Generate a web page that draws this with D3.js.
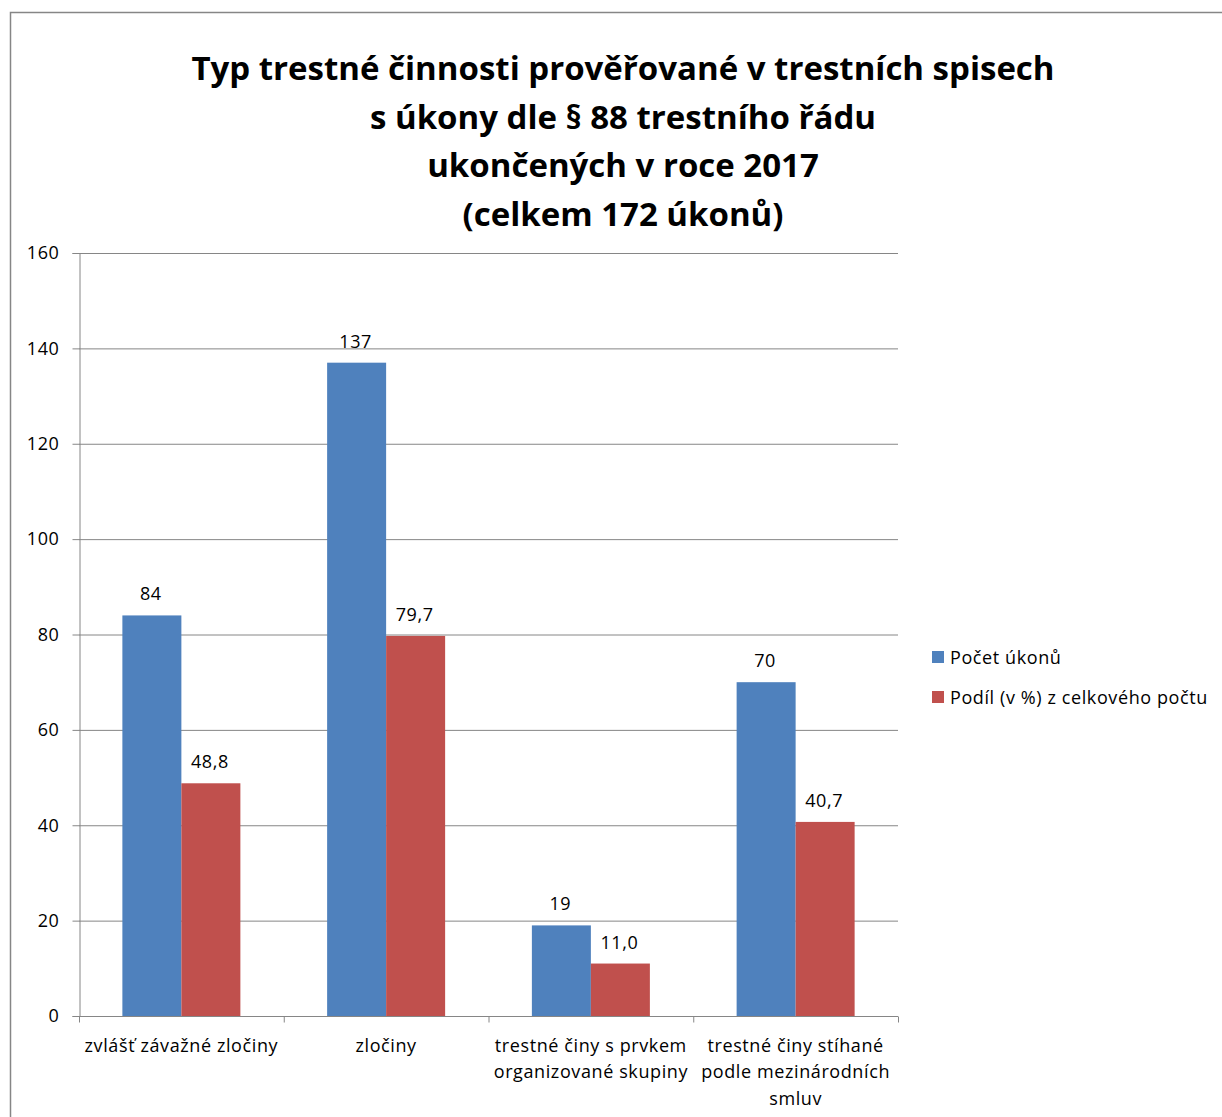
<!DOCTYPE html>
<html><head><meta charset="utf-8">
<script src="https://cdn.jsdelivr.net/npm/d3@7"></script>
<style>body{margin:0;background:#fff;}svg{display:block;}</style>
</head><body>
<script>
const titleLines = ["Typ trestné činnosti prověřované v trestních spisech","s úkony dle § 88 trestního řádu","ukončených v roce 2017","(celkem 172 úkonů)"];
const categories = [["zvlášť závažné zločiny"],["zločiny"],["trestné činy s prvkem","organizované skupiny"],["trestné činy stíhané","podle mezinárodních","smluv"]];
const seriesNames = ["Počet úkonů","Podíl (v %) z celkového počtu"];
const pocet = [84,137,19,70];
const podil = [48.8,79.7,11.0,40.7];
const yTicks = [0,20,40,60,80,100,120,140,160];
const colors = ["#4F81BD","#C0504D"];

const W=1222,H=1117;
const svg=d3.select("body").append("svg").attr("width",W).attr("height",H);
const font="Open Sans, Noto Sans, sans-serif";
const fs=18, ls=0.6;
svg.append("rect").attr("x",10.5).attr("y",12.5).attr("width",1230).attr("height",1130).attr("fill","#fff").attr("stroke","#868686").attr("stroke-width",1.5);

const m={l:79,r:898,t:253,b:1016};
const x0=d3.scaleBand().domain(d3.range(categories.length)).range([m.l,m.r]).paddingInner(0).paddingOuter(0);
const y=d3.scaleLinear().domain([0,160]).range([m.b,m.t]);
const bw=59;

// grid
svg.append("g").selectAll("line").data(yTicks.filter(d=>d>0)).join("line")
 .attr("x1",m.l).attr("x2",m.r).attr("y1",d=>y(d)+0.5).attr("y2",d=>y(d)+0.5).attr("stroke","#868686").attr("stroke-width",1);

// y axis
const ya=svg.append("g").attr("transform",`translate(${m.l+0.5},0)`).call(d3.axisLeft(y).tickValues(yTicks).tickSize(7).tickPadding(13).tickFormat(d3.format("d")));
ya.select(".domain").attr("stroke","#868686");
ya.selectAll(".tick line").attr("stroke","#868686");
ya.selectAll("text").attr("font-family",font).attr("font-size",fs).attr("letter-spacing",ls).attr("fill","#000");

// bars
const data=[pocet,podil];
data.forEach((vals,s)=>{
  const g=svg.append("g");
  g.selectAll("rect").data(vals).join("rect")
   .attr("x",(d,i)=>x0(i)+x0.bandwidth()/2-bw+s*bw).attr("width",bw)
   .attr("y",d=>y(d)).attr("height",d=>y(0)-y(d)).attr("fill",colors[s]);
  g.selectAll("text").data(vals).join("text")
   .attr("x",(d,i)=>x0(i)+x0.bandwidth()/2-bw/2+s*bw-1).attr("y",d=>y(d)-15)
   .attr("text-anchor","middle").attr("font-family",font).attr("font-size",fs).attr("letter-spacing",ls)
   .text(d=>s===0?d3.format("d")(d):d3.format(".1f")(d).replace(".",","));
});

// x axis
const xa=svg.append("g").attr("transform",`translate(0,${m.b+0.5})`);
xa.append("line").attr("x1",m.l).attr("x2",m.r).attr("stroke","#868686");
xa.selectAll("line.t").data(d3.range(categories.length+1)).join("line").attr("class","t")
 .attr("x1",i=>m.l+i*x0.bandwidth()+0.5).attr("x2",i=>m.l+i*x0.bandwidth()+0.5).attr("y1",0).attr("y2",6).attr("stroke","#868686");
categories.forEach((lines,i)=>{
  const t=xa.append("text").attr("text-anchor","middle").attr("font-family",font).attr("font-size",fs).attr("letter-spacing",ls);
  lines.forEach((l,j)=>t.append("tspan").attr("x",x0(i)+x0.bandwidth()/2).attr("y",35+j*26.5).text(l));
});

// title
const tt=svg.append("text").attr("text-anchor","middle").attr("font-family",font).attr("font-size",33).attr("font-weight","bold");
titleLines.forEach((l,j)=>tt.append("tspan").attr("x",623).attr("y",80+j*48.5).text(l));

// legend
seriesNames.forEach((n,i)=>{
  svg.append("rect").attr("x",932).attr("y",651+i*40).attr("width",12).attr("height",12).attr("fill",colors[i]);
  svg.append("text").attr("x",950).attr("y",664+i*40).attr("font-family",font).attr("font-size",fs).attr("letter-spacing",ls).text(n);
});
</script>
</body></html>
